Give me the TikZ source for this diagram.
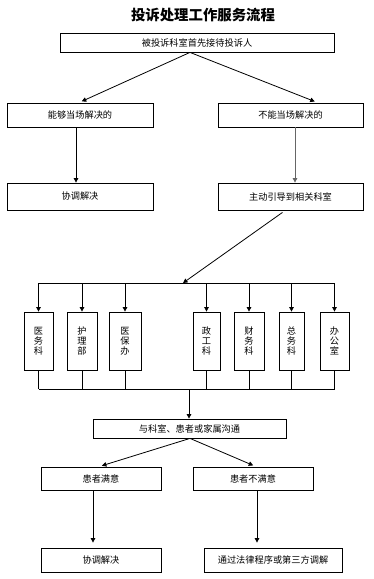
\documentclass[tikz,border=0pt]{standalone}
\usepackage{fontspec}
\setmainfont{Noto Sans CJK SC}
\usetikzlibrary{arrows.meta,calc}
\begin{document}
\begin{tikzpicture}[x=1pt,y=-1pt,
  box/.style={draw,line width=0.8pt,inner sep=0pt,font=\fontsize{9.2}{10}\selectfont},
  vbox/.style={box,align=center,minimum height=58pt},
  arr/.style={line width=0.8pt,-{Triangle[length=4.5pt,width=4.5pt]}},
  ln/.style={line width=0.8pt}]
\useasboundingbox (0,0) rectangle (373,579);
\node[font=\fontsize{14.4}{16}\selectfont\bfseries] (title) at (203,15) {投诉处理工作服务流程};
\node[box,minimum width=274pt,minimum height=19pt] (b1) at (197,42.5) {被投诉科室首先接待投诉人};
\node[box,minimum width=146pt,minimum height=24pt] (l1) at (80,115) {能够当场解决的};
\node[box,minimum width=145pt,minimum height=24pt] (r1) at (290.5,115) {不能当场解决的};
\node[box,minimum width=146pt,minimum height=27pt] (l2) at (80,196.5) {协调解决};
\node[box,minimum width=145pt,minimum height=27pt] (r2) at (290.5,196.5) {主动引导到相关科室};
\draw[arr,shorten >=3pt] ($(b1.south)+(-7,0)$) -- ($(l1.north)+(-1,0)$);
\draw[arr,shorten >=3pt] ($(b1.south)+(-7,0)$) -- ($(r1.north)+(27,0)$);
\draw[arr] ($(l1.south)+(-4,0)$) -- ($(l2.north)+(-4,0)$);
\draw[arr,draw=black!60] ($(r1.south)+(4.5,0)$) -- ($(r2.north)+(4.5,0)$);
% departments
\node[vbox,minimum width=29pt] (d1) at (38.5,341) {医\\务\\科};
\node[vbox,minimum width=30pt] (d2) at (82,341) {护\\理\\部};
\node[vbox,minimum width=32pt] (d3) at (125,341) {医\\保\\办};
\node[vbox,minimum width=27pt] (d4) at (206.5,341) {政\\工\\科};
\node[vbox,minimum width=30pt] (d5) at (249,341) {财\\务\\科};
\node[vbox,minimum width=25pt] (d6) at (291.5,341) {总\\务\\科};
\node[vbox,minimum width=29pt] (d7) at (334.5,341) {办\\公\\室};
\coordinate (bt) at (183,283);
\coordinate (bb) at (189,389);
\draw[arr] ($(r2.south)+(-8,2)$) -- (bt);
\draw[ln] (d1.north |- bt) -- (d7.north |- bt);
\foreach \d in {d1,d2,d3,d4,d5,d6,d7}{
  \draw[arr] (\d.north |- bt) -- (\d.north);
  \draw[ln] (\d.south) -- (\d.south |- bb);
}
\draw[ln] (d1.south |- bb) -- (d7.south |- bb);
\node[box,minimum width=193pt,minimum height=19pt] (c) at (189.5,428.5) {与科室、患者或家属沟通};
\draw[arr] (bb) -- (bb |- c.north);
\node[box,minimum width=120pt,minimum height=23pt] (s1) at (101,478.5) {患者满意};
\node[box,minimum width=120pt,minimum height=23pt] (s2) at (253,478.5) {患者不满意};
\draw[arr,shorten >=3pt] ($(c.south)+(0.5,0)$) -- ($(s1.north)+(-2,0)$);
\draw[arr,shorten >=3pt] ($(c.south)+(0.5,0)$) -- ($(s2.north)+(3,0)$);
\node[box,minimum width=120pt,minimum height=24pt] (f1) at (101,560) {协调解决};
\node[box,minimum width=138pt,minimum height=24pt] (f2) at (273,560) {通过法律程序或第三方调解};
\draw[arr,shorten >=5pt] ($(s1.south)+(-8,0)$) -- ($(f1.north)+(-8,0)$);
\draw[arr,shorten >=5pt] ($(s2.south)+(4,0)$) -- ($(f2.north)+(-16,0)$);
\end{tikzpicture}
\end{document}
